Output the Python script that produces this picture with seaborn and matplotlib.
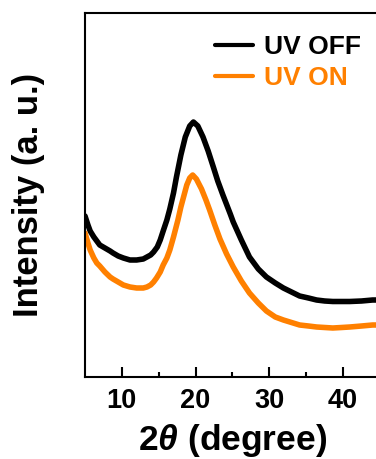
import numpy as np
import pandas as pd
import matplotlib
matplotlib.use("Agg")
import matplotlib.pyplot as plt
import seaborn as sns

# 2-theta positions (degree) and intensities (a.u.)
two_theta_off = [5.0, 5.4, 5.7, 6.2, 6.6, 7.0, 7.7, 8.4, 8.8, 9.5, 10.2, 11.1,
                 12.0, 12.9, 13.4, 13.9, 14.3, 14.8, 15.2, 15.6, 16.1, 16.5,
                 17.0, 17.4, 18.0, 18.6, 19.2, 19.7, 20.3, 21.0, 21.7, 22.4,
                 23.0, 23.7, 24.7, 25.1, 26.2, 27.3, 28.5, 29.6, 30.8, 31.9,
                 33.0, 34.1, 35.3, 36.4, 37.5, 38.6, 39.8, 40.9, 42.5, 44.0,
                 45.0]
intensity_off = [161, 152, 146, 140, 136, 132, 129, 126, 124, 121, 119, 117,
                 117, 118, 120, 122, 125, 130, 137, 146, 157, 168,
                 184, 200, 222, 240, 251, 255, 251, 240, 226, 210,
                 196, 182, 163, 155, 137, 120, 108, 100, 94, 89,
                 85, 81, 79, 77, 76, 75.5, 75.5, 75.5, 76, 77,
                 77]
two_theta_on = [5.0, 5.4, 5.7, 6.2, 6.6, 7.0, 7.7, 8.4, 8.8, 9.5, 10.2, 11.1,
                12.0, 12.9, 13.4, 13.9, 14.3, 14.7, 15.2, 15.6, 16.1, 16.5,
                17.0, 17.6, 18.0, 18.8, 19.2, 19.6, 20.1, 20.8, 21.4, 21.9,
                22.6, 23.3, 24.2, 25.1, 26.2, 27.3, 28.5, 29.6, 30.8, 31.9,
                33.0, 34.1, 35.3, 36.4, 37.5, 38.6, 39.8, 40.9, 42.5, 44.0,
                45.0]
intensity_on = [144, 134, 127, 119, 114, 111, 105, 100, 98, 95, 92, 90,
                89, 89, 90, 92, 95, 99, 105, 112, 119, 127,
                140, 157, 170, 192, 199, 202, 198, 188, 177, 167,
                152, 138, 123, 110, 96, 84, 74, 66, 60, 57,
                54.5, 52, 51, 50, 49.5, 49, 49.5, 50, 51, 52,
                52]
labels = ["UV OFF", "UV ON"]
colors = ["#000000", "#FF8000"]
x_ticks = [10, 20, 30, 40]

df = pd.concat([
    pd.DataFrame({"two_theta": two_theta_off, "intensity": intensity_off, "sample": labels[0]}),
    pd.DataFrame({"two_theta": two_theta_on, "intensity": intensity_on, "sample": labels[1]}),
], ignore_index=True)

sns.set_theme(style="ticks")
plt.rcParams["font.family"] = ["Liberation Sans", "DejaVu Sans"]
plt.rcParams["font.weight"] = "bold"
plt.rcParams["text.color"] = "black"
plt.rcParams["axes.labelcolor"] = "black"
plt.rcParams["xtick.color"] = "black"
plt.rcParams["xtick.labelcolor"] = "black"
plt.rcParams["mathtext.fontset"] = "custom"
plt.rcParams["mathtext.it"] = "Liberation Sans:italic:bold"
plt.rcParams["mathtext.rm"] = "Liberation Sans:bold"
plt.rcParams["mathtext.bf"] = "Liberation Sans:bold"

fig = plt.figure(figsize=(3.76, 4.59), dpi=100)
ax = fig.add_axes([85 / 376, (459 - 377) / 459, 295 / 376, 364 / 459])

sns.lineplot(data=df, x="two_theta", y="intensity", hue="sample",
             palette=dict(zip(labels, colors)), hue_order=labels,
             linewidth=4.0, ax=ax, sort=True, estimator=None)

ax.set_xlim(5, 45)
ax.set_ylim(0, 364)
ax.set_xticks(x_ticks)
ax.set_xticks([15, 25, 35], minor=True)
ax.set_yticks([])
ax.tick_params(axis="x", which="major", direction="in", length=7, width=1.5,
               labelsize=19.5, pad=8, colors="black", labelcolor="black")
ax.tick_params(axis="x", which="minor", direction="in", length=3.5, width=1.5,
               colors="black")
for lab in ax.get_xticklabels():
    lab.set_fontweight("bold")
for s in ax.spines.values():
    s.set_linewidth(1.5)
    s.set_color("black")

ax.set_xlabel(r"2$\theta$ (degree)", fontsize=25.5, fontweight="bold",
              labelpad=6, color="black")
ax.set_ylabel("Intensity (a. u.)", fontsize=24.9, fontweight="bold",
              labelpad=29, color="black")

leg = ax.legend(frameon=False, loc="upper left", bbox_to_anchor=(0.405, 0.968),
                fontsize=19, handlelength=1.45, handletextpad=0.4,
                labelspacing=0.27, borderaxespad=0)
for text, c in zip(leg.get_texts(), colors):
    text.set_color(c)
    text.set_fontweight("bold")
for line in leg.get_lines():
    line.set_linewidth(3)

fig.savefig("out.png", dpi=100)
